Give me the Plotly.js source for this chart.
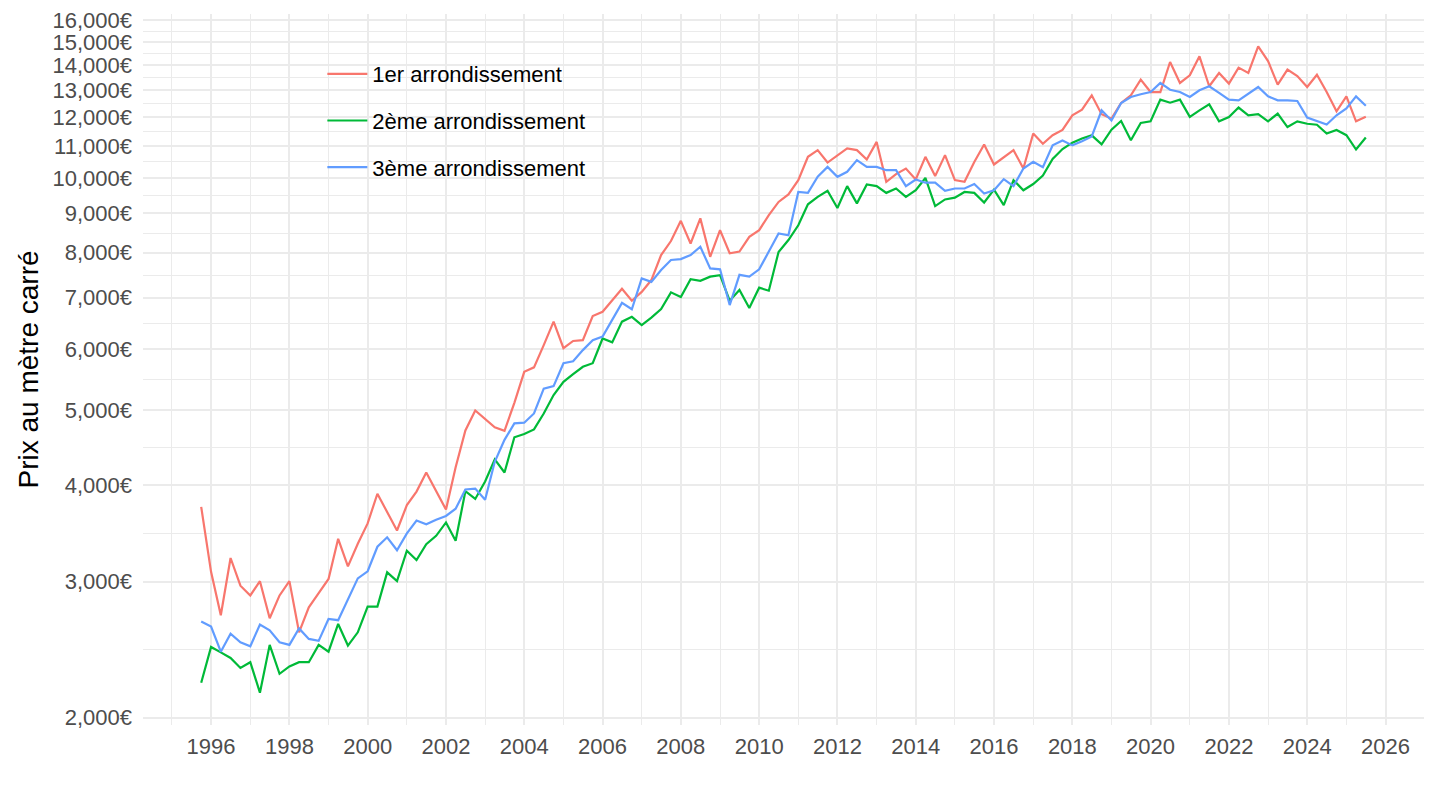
<!DOCTYPE html>
<html>
<head>
<meta charset="utf-8">
<script src="https://cdn.plot.ly/plotly-3.0.1.min.js"></script>
<style>html,body{margin:0;padding:0;background:#fff;}#chart{width:1440px;height:810px;}</style>
</head>
<body>
<div id="chart"></div>
<script>
// Quarterly dates (first day of quarter)
const quarters = [
"1995-10-01",
"1996-01-01","1996-04-01","1996-07-01","1996-10-01",
"1997-01-01","1997-04-01","1997-07-01","1997-10-01",
"1998-01-01","1998-04-01","1998-07-01","1998-10-01",
"1999-01-01","1999-04-01","1999-07-01","1999-10-01",
"2000-01-01","2000-04-01","2000-07-01","2000-10-01",
"2001-01-01","2001-04-01","2001-07-01","2001-10-01",
"2002-01-01","2002-04-01","2002-07-01","2002-10-01",
"2003-01-01","2003-04-01","2003-07-01","2003-10-01",
"2004-01-01","2004-04-01","2004-07-01","2004-10-01",
"2005-01-01","2005-04-01","2005-07-01","2005-10-01",
"2006-01-01","2006-04-01","2006-07-01","2006-10-01",
"2007-01-01","2007-04-01","2007-07-01","2007-10-01",
"2008-01-01","2008-04-01","2008-07-01","2008-10-01",
"2009-01-01","2009-04-01","2009-07-01","2009-10-01",
"2010-01-01","2010-04-01","2010-07-01","2010-10-01",
"2011-01-01","2011-04-01","2011-07-01","2011-10-01",
"2012-01-01","2012-04-01","2012-07-01","2012-10-01",
"2013-01-01","2013-04-01","2013-07-01","2013-10-01",
"2014-01-01","2014-04-01","2014-07-01","2014-10-01",
"2015-01-01","2015-04-01","2015-07-01","2015-10-01",
"2016-01-01","2016-04-01","2016-07-01","2016-10-01",
"2017-01-01","2017-04-01","2017-07-01","2017-10-01",
"2018-01-01","2018-04-01","2018-07-01","2018-10-01",
"2019-01-01","2019-04-01","2019-07-01","2019-10-01",
"2020-01-01","2020-04-01","2020-07-01","2020-10-01",
"2021-01-01","2021-04-01","2021-07-01","2021-10-01",
"2022-01-01","2022-04-01","2022-07-01","2022-10-01",
"2023-01-01","2023-04-01","2023-07-01","2023-10-01",
"2024-01-01","2024-04-01","2024-07-01","2024-10-01",
"2025-01-01","2025-04-01","2025-07-01"
];

const arr1 = [
3750,
3090,2715,3220,2965,
2880,3005,2690,2880,
3005,2580,2780,2900,
3025,3410,3140,3360,
3570,3900,3685,3495,
3770,3925,4155,3935,
3720,4220,4710,5000,
4870,4755,4705,5115,
5610,5685,6075,6515,
6020,6150,6165,6625,
6710,6950,7185,6935,
7120,7375,7945,8285,
8800,8225,8865,7905,
8560,7990,8030,8390,
8560,8950,9310,9520,
9935,10650,10865,10470,
10705,10920,10865,10565,
11135,9885,10115,10285,
9955,10650,10055,10705,
9935,9885,10490,11050,
10410,10630,10865,10285,
11415,11075,11360,11540,
12055,12260,12795,12095,
11935,12505,12795,13410,
12920,12920,14130,13275,
13580,14370,13145,13675,
13250,13895,13675,14805,
14170,13210,13815,13550,
13115,13605,12920,12200,
12755,11840,12000
];

const arr2 = [
2220,
2470,2430,2390,2320,
2360,2155,2485,2280,
2330,2360,2360,2485,
2435,2645,2480,2580,
2785,2785,3085,3005,
3290,3200,3355,3440,
3580,3390,3930,3840,
4045,4320,4155,4615,
4660,4725,4955,5235,
5445,5570,5695,5755,
6195,6125,6515,6610,
6450,6595,6765,7110,
7010,7395,7360,7450,
7485,6935,7160,6785,
7210,7145,8020,8310,
8685,9245,9450,9625,
9145,9760,9270,9810,
9760,9565,9690,9450,
9640,10000,9195,9380,
9430,9590,9565,9295,
9660,9220,9935,9640,
9820,10070,10580,10900,
11110,11250,11355,11055,
11550,11850,11190,11780,
11840,12630,12515,12630,
12000,12235,12455,11840,
11990,12335,12055,12095,
11840,12115,11640,11840,
11755,11720,11415,11535,
11360,10885,11280
];

const arr3 = [
2665,
2625,2435,2570,2505,
2475,2640,2595,2505,
2485,2610,2530,2515,
2685,2675,2850,3030,
3095,3330,3425,3295,
3465,3600,3560,3610,
3650,3730,3950,3960,
3830,4290,4580,4810,
4820,4955,5335,5375,
5755,5790,5985,6165,
6230,6545,6890,6760,
7410,7335,7600,7830,
7850,7945,8145,7635,
7615,6845,7490,7450,
7615,8030,8475,8430,
9590,9565,10035,10335,
10035,10185,10545,10335,
10335,10235,10235,9760,
9955,9860,9860,9625,
9690,9690,9820,9545,
9640,9965,9760,10285,
10490,10325,11020,11180,
11020,11160,11320,12235,
11870,12505,12730,12835,
12920,13275,13010,12920,
12730,12990,13145,12885,
12630,12605,12860,13115,
12755,12605,12605,12580,
11975,11850,11730,12055,
12300,12755,12400
];

const seriesNames = ["1er arrondissement", "2ème arrondissement", "3ème arrondissement"];
const seriesColors = ["#F8766D", "#00BA38", "#619CFF"];

const yTickVals = [2000,3000,4000,5000,6000,7000,8000,9000,10000,11000,12000,13000,14000,15000,16000];
const yTickText = ["2,000€","3,000€","4,000€","5,000€","6,000€","7,000€","8,000€","9,000€","10,000€","11,000€","12,000€","13,000€","14,000€","15,000€","16,000€"];

const yMinor = [];
for (let i = 0; i < yTickVals.length - 1; i++) yMinor.push(Math.sqrt(yTickVals[i] * yTickVals[i + 1]));

const FONT = "Liberation Sans, Arial, Helvetica, sans-serif";
const GRID = "#EBEBEB";

const data = [arr1, arr2, arr3].map((vals, i) => ({
  type: "scatter",
  mode: "lines",
  x: quarters,
  y: vals,
  name: seriesNames[i],
  legendgroup: "g" + i,
  line: { color: seriesColors[i], width: 2.2 },
  hoverinfo: "x+y+name"
}));

const layout = {
  width: 1440,
  height: 810,
  paper_bgcolor: "#ffffff",
  plot_bgcolor: "#ffffff",
  margin: { l: 143, r: 16, t: 14, b: 85 },
  font: { family: FONT, color: "#4D4D4D", size: 22 },
  showlegend: true,
  legend: {
    x: 0.14, y: 0.945, xanchor: "left", yanchor: "top",
    bgcolor: "rgba(0,0,0,0)",
    font: { family: FONT, size: 22, color: "#000000" },
    tracegroupgap: 15,
    traceorder: "grouped",
    itemwidth: 40
  },
  xaxis: {
    type: "date",
    range: ["1994-04-06", "2026-12-26"],
    tick0: "1996-01-01",
    dtick: "M24",
    tickformat: "%Y",
    showgrid: true,
    gridcolor: GRID,
    gridwidth: 2,
    zeroline: false,
    showline: false,
    ticks: "",
    ticklabelstandoff: 6,
    tickfont: { family: FONT, size: 22, color: "#4D4D4D" },
    minor: { dtick: "M12", tick0: "1995-01-01", showgrid: true, gridcolor: GRID, gridwidth: 1 },
    fixedrange: true
  },
  yaxis: {
    type: "log",
    range: [Math.log10(1957), Math.log10(16305)],
    tickmode: "array",
    tickvals: yTickVals,
    ticktext: yTickText,
    showgrid: true,
    gridcolor: GRID,
    gridwidth: 2,
    zeroline: false,
    showline: false,
    ticks: "",
    ticklabelstandoff: 10,
    tickfont: { family: FONT, size: 22, color: "#4D4D4D" },
    minor: { tickmode: "array", tickvals: yMinor, showgrid: true, gridcolor: GRID, gridwidth: 1 },
    title: { text: "Prix au mètre carré", font: { family: FONT, size: 28, color: "#000000" }, standoff: 5 },
    automargin: false,
    fixedrange: true
  }
};

Plotly.newPlot("chart", data, layout, { displayModeBar: false, staticPlot: true });
</script>
</body>
</html>
